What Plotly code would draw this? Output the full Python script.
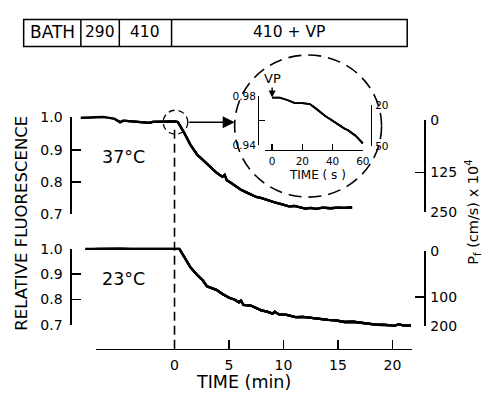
import plotly.graph_objects as go

OX, OY = 0, 0
W, H = 499, 399
FONT = "DejaVu Sans"

# ---------------- data ----------------
top_t = [-8.6, -7.5, -6.5, -5.5, -5.0, -4.7, -4.0, -3.0, -2.3, -2.0, -1.5, -1.0, -0.5, 0.0, 0.3,
         0.5, 0.9, 1.45, 1.8, 2.1, 2.5, 3.0, 3.5, 3.9, 4.4, 4.6, 4.8, 5.2, 5.7, 6.1, 6.6, 7.0,
         7.5, 8.0, 8.4, 8.9, 9.3, 9.8, 10.5, 11.0, 11.5, 12.0, 12.5, 13.0, 13.6, 14.3, 15.0,
         15.6, 16.3]
top_F = [0.999, 1.000, 1.002, 0.996, 0.985, 0.990, 0.988, 0.986, 0.983, 0.986, 0.987, 0.986,
         0.988, 0.988, 0.986, 0.975, 0.952, 0.916, 0.900, 0.884, 0.872, 0.855, 0.840, 0.828,
         0.816, 0.822, 0.806, 0.797, 0.784, 0.776, 0.768, 0.762, 0.754, 0.750, 0.745, 0.740,
         0.736, 0.732, 0.725, 0.726, 0.721, 0.718, 0.720, 0.717, 0.721, 0.719, 0.721, 0.720,
         0.722]

bot_t = [-8.2, -7.0, -6.0, -5.0, -4.0, -3.0, -2.0, -1.0, 0.0, 0.45, 0.8, 1.45, 2.08, 2.6, 2.98,
         3.4, 3.89, 4.4, 5.06, 5.5, 5.9, 6.1, 6.33, 7.0, 7.5, 7.96, 8.5, 9.0, 9.2, 9.58, 10.3,
         11.1, 11.8, 12.66, 13.3, 14.1, 14.8, 15.6, 16.4, 17.2, 17.9, 18.6, 19.4, 20.2, 20.6,
         21.0, 21.7]
bot_F = [1.000, 1.001, 0.999, 1.001, 1.000, 1.000, 0.999, 1.000, 1.000, 1.000, 0.975, 0.928,
         0.897, 0.875, 0.852, 0.845, 0.837, 0.822, 0.806, 0.800, 0.789, 0.795, 0.779, 0.776,
         0.766, 0.757, 0.752, 0.744, 0.752, 0.741, 0.739, 0.730, 0.731, 0.726, 0.723, 0.719,
         0.717, 0.711, 0.712, 0.707, 0.705, 0.700, 0.699, 0.696, 0.702, 0.697, 0.697]

inset_s = [0, 5, 10, 15, 20, 25, 30, 35, 40, 45, 48, 50, 55, 60]
inset_F = [0.979, 0.979, 0.977, 0.9745, 0.9745, 0.9737, 0.969, 0.964, 0.960, 0.9557, 0.9535,
           0.9525, 0.948, 0.9416]

time_ticks = [0, 5, 10, 15, 20]
F_ticks = [0.7, 0.8, 0.9, 1.0]
P_top_labels = ["0", "125", "250"]
P_top_at_F = [0.993, 0.830, 0.706]
P_bot_labels = ["0", "100", "200"]
P_bot_at_F = [0.992, 0.810, 0.694]
inset_s_ticks = [0, 20, 40, 60]
inset_F_ticks = [0.94, 0.96, 0.98]
inset_F_labels = ["0.94", "", "0.98"]
inset_P_labels = ["20", "50"]
inset_P_at_F = [0.9729, 0.9392]
bath_labels = ["BATH", "290", "410", "410 + VP"]
temp_labels = ["37°C", "23°C"]

# ---------------- pixel geometry helpers (window pixels) ----------------
def px(p):
    return (p - OX) / W

def py(p):
    return 1 - (p - OY) / H

def lin(a0, b0, a1, b1):
    k = (b1 - b0) / (a1 - a0)
    return lambda a: b0 + (a - a0) * k

tmin = lin(177, 0, 398, 20)          # px -> minutes
topF = lin(114, 1.0, 215, 0.7)       # px -> F (upper panel)
topPx = lin(1.0, 114, 0.7, 215)
botF = lin(251, 1.0, 330, 0.7)
botPx = lin(1.0, 251, 0.7, 330)
insS = lin(276, 0, 368, 60)
insF = lin(92, 0.98, 143, 0.94)
insPx = lin(0.98, 92, 0.94, 143)

def xdom(f, lo, hi):
    return dict(domain=[px(lo), px(hi)], range=[f(lo), f(hi)])

def ydom(f, lo, hi):
    return dict(domain=[py(hi), py(lo)], range=[f(hi), f(lo)])

def ydom_ticks(pxf, vals):
    lo, hi = pxf(max(vals)), pxf(min(vals))
    return dict(domain=[py(hi), py(lo)], range=[min(vals), max(vals)])

hidden = dict(visible=False, showgrid=False, zeroline=False, fixedrange=True)
LW = 1.6
def vis(size=14, **kw):
    d = dict(showgrid=False, zeroline=False, showline=True, linecolor="black", linewidth=LW,
             tickcolor="black", tickwidth=LW, fixedrange=True,
             tickfont=dict(family=FONT, size=size, color="black"), tickmode="array")
    d.update(kw)
    return d

fig = go.Figure()
def add(xs, ys, xa, ya, w=2.3):
    fig.add_trace(go.Scatter(x=xs, y=ys, mode="lines", line=dict(color="black", width=w),
                             xaxis=xa, yaxis=ya, hoverinfo="skip", showlegend=False))

# full traces on the free data axes, and the same traces on each axis pair
# (identical pixel positions) so that every drawn axis belongs to a subplot
add(top_t, top_F, "x", "y")
for ya in ["y4", "y6"]:
    add(top_t, top_F, "x3", ya)
add(bot_t, bot_F, "x", "y2")
add(bot_t, bot_F, "x2", "y2")
for ya in ["y7", "y9"]:
    add(bot_t, bot_F, "x3", ya)
for xa, ya in [("x5", "y11"), ("x5", "y12"), ("x4", "y10")]:
    add(inset_s, inset_F, xa, ya, 1.8)

lay = dict(width=W, height=H, margin=dict(l=0, r=0, t=0, b=0), paper_bgcolor="white",
           plot_bgcolor="rgba(0,0,0,0)", showlegend=False, hovermode=False)

# data axes
lay["xaxis"] = dict(hidden, anchor="y", **xdom(tmin, 60, 440))
lay["yaxis"] = dict(hidden, anchor="x", **ydom(topF, 95, 235))
lay["yaxis2"] = dict(hidden, anchor="x", **ydom(botF, 238, 355))

# main time axis (drawn at the bottom of yaxis2 -> y = 355 px)
lay["xaxis2"] = vis(14, anchor="y2", ticks="inside", ticklen=9, tickvals=time_ticks,
                    ticktext=[str(v) for v in time_ticks], ticklabelstandoff=3,
                    **xdom(tmin, 97, 418))

# frame for panel axes (left axes at 73 px, right axes at 430 px)
lay["xaxis3"] = dict(hidden, anchor="y4", **xdom(tmin, 73, 430))

# upper panel
lay["yaxis4"] = vis(14, anchor="x3", side="left", ticks="inside", ticklen=9,
                    tickvals=F_ticks, ticktext=[f"{v:.1f}" for v in F_ticks],
                    ticklabelstandoff=5, **ydom(topF, 114, 215))
lay["yaxis6"] = vis(14, anchor="x3", side="right", ticks="inside", ticklen=9,
                    tickvals=P_top_at_F, ticktext=P_top_labels, ticklabelstandoff=2,
                    **ydom_ticks(topPx, P_top_at_F))
# lower panel
lay["yaxis7"] = vis(14, anchor="x3", side="left", ticks="inside", ticklen=9,
                    tickvals=F_ticks, ticktext=[f"{v:.1f}" for v in F_ticks],
                    ticklabelstandoff=5, **ydom(botF, 251, 330))
lay["yaxis9"] = vis(14, anchor="x3", side="right", ticks="inside", ticklen=9,
                    tickvals=P_bot_at_F, ticktext=P_bot_labels, ticklabelstandoff=2,
                    **ydom_ticks(botPx, P_bot_at_F))

# inset
lay["xaxis4"] = vis(10.5, anchor="y10", ticks="inside", ticklen=6, tickvals=inset_s_ticks,
                    ticktext=[str(v) for v in inset_s_ticks], linewidth=1.3, tickwidth=1.3,
                    ticklabelstandoff=1, **xdom(insS, 269, 368))
lay["yaxis10"] = dict(hidden, anchor="x4", **ydom(insF, 88, 148))
lay["xaxis5"] = dict(hidden, anchor="y11", **xdom(insS, 263, 376))
lay["yaxis11"] = vis(10.5, anchor="x5", side="left", ticks="inside", ticklen=6,
                     tickvals=inset_F_ticks, ticktext=inset_F_labels, linewidth=1.3,
                     tickwidth=1.3, ticklabelstandoff=0, **ydom(insF, 92, 143))
lay["yaxis12"] = vis(10.5, anchor="x5", side="right", ticks="inside", ticklen=6,
                     tickvals=inset_P_at_F, ticktext=inset_P_labels, linewidth=1.3,
                     tickwidth=1.3, ticklabelstandoff=1, **ydom_ticks(insPx, inset_P_at_F))

fig.update_layout(**lay)

# ---------------- shapes ----------------
shapes = []
blk = dict(color="black", width=1.5)
shapes.append(dict(type="rect", xref="paper", yref="paper", x0=px(24), x1=px(413),
                   y0=py(40), y1=py(12), line=blk))
for d in [82, 121, 174]:
    shapes.append(dict(type="line", xref="paper", yref="paper", x0=px(d), x1=px(d),
                       y0=py(40), y1=py(12), line=blk))
shapes.append(dict(type="line", xref="x", yref="paper", x0=0, x1=0, y0=py(355), y1=py(123),
                   line=dict(color="black", width=1.6, dash="9px,5px")))
shapes.append(dict(type="circle", xref="paper", yref="paper", x0=px(165.5), x1=px(190.5),
                   y0=py(131.5), y1=py(106.5), line=dict(color="black", width=1.3, dash="6px,4px")))
shapes.append(dict(type="circle", xref="paper", yref="paper", x0=px(238), x1=px(387),
                   y0=py(197), y1=py(49), line=dict(color="black", width=1.6, dash="13px,7px")))
fig.update_layout(shapes=shapes)

# ---------------- text ----------------
ann = []
def txt(s, x, y, size, angle=0):
    ann.append(dict(text=s, xref="paper", yref="paper", x=px(x), y=py(y), showarrow=False,
                    xanchor="center", yanchor="middle", textangle=angle,
                    font=dict(family=FONT, size=size, color="black")))

for lab, cx, fs in zip(bath_labels, [53, 101.5, 147.5, 293.5], [17, 15.5, 15.5, 15.5]):
    txt(lab, cx, 25.5, fs)
txt(temp_labels[0], 125, 155, 17.5)
txt(temp_labels[1], 125, 282, 17.5)
txt("TIME (min)", 247, 390, 17.5)
txt("RELATIVE FLUORESCENCE", 21, 224, 16.5, -90)
txt("P<sub>f</sub> (cm/s) x 10<sup>4</sup>", 480, 212, 14.5, -90)
txt("TIME ( s )", 322, 174, 12)

ann.append(dict(text="VP", xref="x5", yref="y11", x=inset_s[0], y=inset_F[0], showarrow=True,
                ax=0, ay=-19, arrowhead=2, arrowsize=1, arrowwidth=1.4, arrowcolor="black",
                standoff=0, font=dict(family=FONT, size=13, color="black")))
ann.append(dict(text="", xref="paper", yref="paper", x=px(238), y=py(119), axref="pixel",
                ayref="pixel", ax=-47, ay=0, showarrow=True, arrowhead=2,
                arrowsize=1.6, arrowwidth=1.5, arrowcolor="black", standoff=0))
fig.update_layout(annotations=ann)

# place the figure at the window's top-left corner (no default body margin)
fig.write_html("out.html", config={"displayModeBar": False, "staticPlot": True},
               post_script="document.body.style.margin='0';document.body.style.overflow='hidden';")
